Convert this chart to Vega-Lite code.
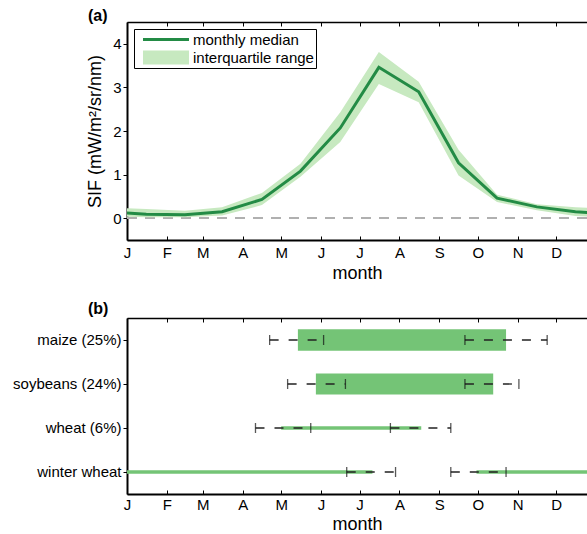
{
  "$schema": "https://vega.github.io/schema/vega-lite/v6.json",
  "padding": {"left": 12, "top": 7, "right": 0, "bottom": 0},
  "spacing": 18,
  "config": {
    "font": "Liberation Sans",
    "view": {"stroke": null},
    "axis": {
      "grid": false,
      "labelFont": "Liberation Sans",
      "labelColor": "black",
      "labelFontSize": 15,
      "titleFont": "Liberation Sans",
      "titleFontSize": 18,
      "titleFontWeight": "normal",
      "titleColor": "black",
      "domainColor": "black",
      "tickColor": "black"
    },
    "legend": {"labelFont": "Liberation Sans", "labelColor": "black"},
    "title": {"font": "Liberation Sans", "fontSize": 16, "fontWeight": "bold", "color": "black"}
  },
  "datasets": {
    "sif": [
      {"day": -16, "median": 0.15, "q1": 0.05, "q3": 0.25},
      {"day": 15, "median": 0.09, "q1": 0.02, "q3": 0.21},
      {"day": 45, "median": 0.08, "q1": 0.02, "q3": 0.17},
      {"day": 74, "median": 0.15, "q1": 0.06, "q3": 0.25},
      {"day": 105, "median": 0.43, "q1": 0.30, "q3": 0.58},
      {"day": 135, "median": 1.08, "q1": 0.95, "q3": 1.25},
      {"day": 166, "median": 2.07, "q1": 1.75, "q3": 2.43},
      {"day": 196, "median": 3.46, "q1": 3.08, "q3": 3.81},
      {"day": 227, "median": 2.90, "q1": 2.66, "q3": 3.13},
      {"day": 258, "median": 1.27, "q1": 0.98, "q3": 1.57},
      {"day": 288, "median": 0.46, "q1": 0.37, "q3": 0.54},
      {"day": 319, "median": 0.26, "q1": 0.18, "q3": 0.32},
      {"day": 349, "median": 0.15, "q1": 0.05, "q3": 0.25},
      {"day": 380, "median": 0.09, "q1": 0.02, "q3": 0.21}
    ],
    "bars": [
      {"crop": "maize (25%)", "start": 133, "end": 295, "share": 25},
      {"crop": "soybeans (24%)", "start": 147, "end": 285, "share": 24},
      {"crop": "wheat (6%)", "start": 120, "end": 229, "share": 6},
      {"crop": "winter wheat", "start": 0, "end": 191, "share": 6},
      {"crop": "winter wheat", "start": 272, "end": 365, "share": 6}
    ],
    "windows": [
      {"crop": "maize (25%)", "from": 111, "to": 153},
      {"crop": "maize (25%)", "from": 263, "to": 327},
      {"crop": "soybeans (24%)", "from": 125, "to": 170},
      {"crop": "soybeans (24%)", "from": 263, "to": 305},
      {"crop": "wheat (6%)", "from": 100, "to": 143},
      {"crop": "wheat (6%)", "from": 205, "to": 252},
      {"crop": "winter wheat", "from": 171, "to": 209},
      {"crop": "winter wheat", "from": 252, "to": 295}
    ]
  },
  "vconcat": [
    {
      "title": {"text": "(a)", "anchor": "start", "frame": "group", "dx": -39, "offset": -2},
      "width": 460,
      "height": 218,
      "data": {"name": "sif"},
      "layer": [
        {
          "mark": {"type": "rule", "color": "#b0b0b0", "strokeDash": [10, 8], "strokeWidth": 1.5},
          "encoding": {"y": {"datum": 0, "type": "quantitative"}}
        },
        {
          "mark": {"type": "area", "clip": true, "opacity": 1},
          "encoding": {
            "x": {
              "field": "day", "type": "quantitative",
              "scale": {"domain": [0, 358], "nice": false, "zero": false},
              "axis": {
                "orient": "bottom", "title": "month",
                "values": [0, 31, 59, 90, 120, 151, 181, 212, 243, 273, 304, 334],
                "labelExpr": "['J','F','M','A','M','J','J','A','S','O','N','D'][indexof([0,31,59,90,120,151,181,212,243,273,304,334], datum.value)]",
                "tickSize": -4, "labelPadding": 9, "domainWidth": 2, "titlePadding": 4, "labelFlush": false
              }
            },
            "y": {
              "field": "q1", "type": "quantitative",
              "scale": {"domain": [-0.5, 4.5], "nice": false},
              "axis": {
                "title": "SIF (mW/m²/sr/nm)", "values": [0, 1, 2, 3, 4],
                "tickSize": 4, "labelPadding": 2, "domainWidth": 2, "titlePadding": 8
              }
            },
            "y2": {"field": "q3"},
            "color": {
              "datum": "interquartile range",
              "scale": {"domain": ["monthly median", "interquartile range"], "range": ["#238b45", "#c7e9c0"]},
              "legend": {
                "orient": "top-left", "offset": 7, "title": null,
                "strokeColor": "black", "fillColor": "white", "padding": 2,
                "symbolSize": 289, "symbolOffset": 7, "labelOffset": 33, "rowPadding": 1,
                "symbolStrokeWidth": 0, "symbolOpacity": 1,
                "labelFontSize": 15
              }
            }
          }
        },
        {
          "mark": {"type": "line", "clip": true, "strokeWidth": 3},
          "encoding": {
            "x": {
              "field": "day", "type": "quantitative",
              "axis": {
                "orient": "top", "title": null, "labels": false,
                "values": [0, 31, 59, 90, 120, 151, 181, 212, 243, 273, 304, 334],
                "tickSize": -4, "domainWidth": 1.5
              }
            },
            "y": {"field": "median", "type": "quantitative"},
            "color": {"datum": "monthly median"}
          }
        },
        {
          "mark": {"type": "point", "filled": true, "opacity": 0, "clip": true},
          "encoding": {
            "x": {"field": "day", "type": "quantitative", "axis": null},
            "y": {"field": "median", "type": "quantitative"},
            "color": {"datum": "monthly median"},
            "shape": {
              "datum": "monthly median",
              "scale": {"domain": ["monthly median", "interquartile range"], "range": ["M-1,-0.18H4.41V0.18H-1Z", "M-1,-0.82H4.41V0.82H-1Z"]},
              "legend": {
                "orient": "top-left", "offset": 7, "title": null,
                "strokeColor": "black", "fillColor": "white", "padding": 2,
                "symbolSize": 289, "symbolOffset": 7, "labelOffset": 33, "rowPadding": 1,
                "symbolStrokeWidth": 0, "symbolOpacity": 1,
                "labelFontSize": 15
              }
            }
          }
        }
      ],
      "resolve": {"axis": {"x": "independent"}}
    },
    {
      "title": {"text": "(b)", "anchor": "start", "frame": "group", "dx": -39, "offset": 1},
      "width": 460,
      "height": 176,
      "layer": [
        {
          "data": {"name": "bars"},
          "mark": {"type": "bar", "clip": true, "color": "#74c476"},
          "encoding": {
            "x": {
              "field": "start", "type": "quantitative",
              "scale": {"domain": [0, 358], "nice": false, "zero": false},
              "axis": {
                "orient": "bottom", "title": "month",
                "values": [0, 31, 59, 90, 120, 151, 181, 212, 243, 273, 304, 334],
                "labelExpr": "['J','F','M','A','M','J','J','A','S','O','N','D'][indexof([0,31,59,90,120,151,181,212,243,273,304,334], datum.value)]",
                "tickSize": -4, "labelPadding": 7, "domainWidth": 2, "titlePadding": 3, "labelFlush": false
              }
            },
            "x2": {"field": "end"},
            "y": {
              "field": "crop", "type": "nominal",
              "sort": ["maize (25%)", "soybeans (24%)", "wheat (6%)", "winter wheat"],
              "scale": {"paddingInner": 0, "paddingOuter": 0},
              "axis": {"title": null, "tickSize": 4, "labelPadding": 2, "domainWidth": 2}
            },
            "size": {
              "field": "share", "type": "quantitative",
              "scale": {"domain": [6, 25], "range": [3.7, 21.7], "zero": false},
              "legend": null
            }
          }
        },
        {
          "data": {"name": "windows"},
          "mark": {"type": "rule", "clip": true, "color": "#222222", "strokeDash": [9, 10], "strokeWidth": 1.3},
          "encoding": {
            "x": {
              "field": "from", "type": "quantitative",
              "axis": {
                "orient": "top", "title": null, "labels": false,
                "values": [0, 31, 59, 90, 120, 151, 181, 212, 243, 273, 304, 334],
                "tickSize": -4, "domainWidth": 1.5
              }
            },
            "x2": {"field": "to"},
            "y": {"field": "crop", "type": "nominal", "sort": ["maize (25%)", "soybeans (24%)", "wheat (6%)", "winter wheat"]}
          }
        },
        {
          "data": {"name": "windows"},
          "mark": {"type": "tick", "color": "#111111", "thickness": 1.3, "size": 10},
          "encoding": {
            "x": {"field": "from", "type": "quantitative", "axis": null},
            "y": {"field": "crop", "type": "nominal", "sort": ["maize (25%)", "soybeans (24%)", "wheat (6%)", "winter wheat"]}
          }
        },
        {
          "data": {"name": "windows"},
          "mark": {"type": "tick", "color": "#111111", "thickness": 1.3, "size": 10},
          "encoding": {
            "x": {"field": "to", "type": "quantitative", "axis": null},
            "y": {"field": "crop", "type": "nominal", "sort": ["maize (25%)", "soybeans (24%)", "wheat (6%)", "winter wheat"]}
          }
        }
      ],
      "resolve": {"axis": {"x": "independent"}}
    }
  ]
}
